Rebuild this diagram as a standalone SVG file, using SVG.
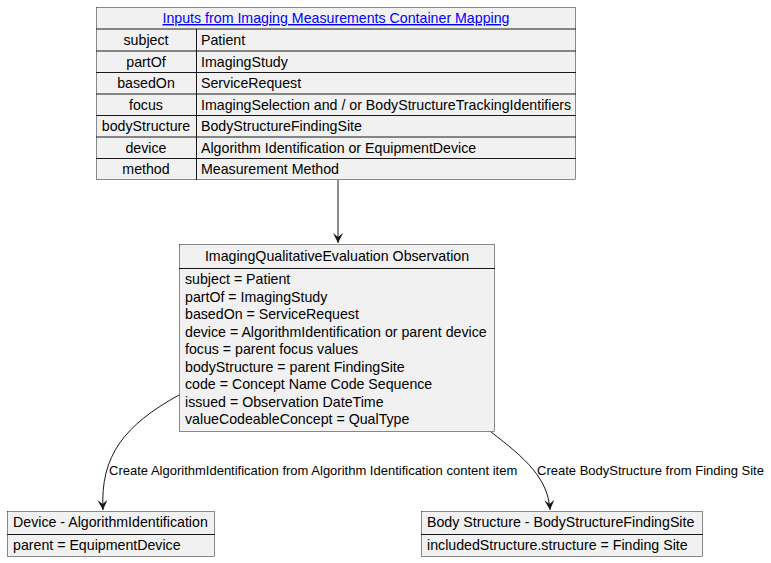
<svg xmlns="http://www.w3.org/2000/svg" width="771" height="563" viewBox="0 0 771 563">
<defs>
<style>
.box{fill:#F1F1F1;stroke:#181818;stroke-width:0.5}
.ln{stroke:#181818;stroke-width:1}
.t14{font-family:"Liberation Sans",Arial,sans-serif;font-size:14.2px;fill:#000}
.t13{font-family:"Liberation Sans",Arial,sans-serif;font-size:14.2px;fill:#000}
.lbl{font-family:"Liberation Sans",Arial,sans-serif;font-size:13px;fill:#000}
.edge{fill:none;stroke:#181818;stroke-width:1}
</style>
<marker id="arr" markerWidth="12" markerHeight="12" refX="10" refY="5" orient="auto" markerUnits="userSpaceOnUse">
<path d="M0,0 L10,5 L0,10 L4,5 Z" fill="#181818"/>
</marker>
</defs>
<rect width="771" height="563" fill="#FFFFFF"/>
<g id="inputs">
<rect class="box" x="96.5" y="7.5" width="479" height="172"/>
<line class="ln" x1="96" y1="29" x2="576" y2="29"/>
<line class="ln" x1="96" y1="51" x2="576" y2="51"/>
<line class="ln" x1="96" y1="72.5" x2="576" y2="72.5"/>
<line class="ln" x1="96" y1="94" x2="576" y2="94"/>
<line class="ln" x1="96" y1="115.5" x2="576" y2="115.5"/>
<line class="ln" x1="96" y1="137" x2="576" y2="137"/>
<line class="ln" x1="96" y1="158.5" x2="576" y2="158.5"/>
<line class="ln" x1="196.5" y1="29" x2="196.5" y2="180"/>
<text class="t14" x="336" y="23" text-anchor="middle" style="fill:#0000FF" text-decoration="underline">Inputs from Imaging Measurements Container Mapping</text>
<text class="t14" x="146" y="45" text-anchor="middle">subject</text>
<text class="t14" x="201" y="45">Patient</text>
<text class="t14" x="146" y="67" text-anchor="middle">partOf</text>
<text class="t14" x="201" y="67">ImagingStudy</text>
<text class="t14" x="146" y="88" text-anchor="middle">basedOn</text>
<text class="t14" x="201" y="88">ServiceRequest</text>
<text class="t14" x="146" y="110" text-anchor="middle">focus</text>
<text class="t14" x="201" y="110">ImagingSelection and / or BodyStructureTrackingIdentifiers</text>
<text class="t14" x="146" y="131" text-anchor="middle">bodyStructure</text>
<text class="t14" x="201" y="131">BodyStructureFindingSite</text>
<text class="t14" x="146" y="153" text-anchor="middle">device</text>
<text class="t14" x="201" y="153">Algorithm Identification or EquipmentDevice</text>
<text class="t14" x="146" y="174" text-anchor="middle">method</text>
<text class="t14" x="201" y="174">Measurement Method</text>
</g>
<g id="observation">
<rect class="box" x="179.5" y="244.5" width="315" height="187"/>
<line class="ln" x1="179" y1="268.5" x2="495" y2="268.5"/>
<text class="t13" x="337" y="261" text-anchor="middle">ImagingQualitativeEvaluation Observation</text>
<text class="t13" x="185" y="284">subject = Patient</text>
<text class="t13" x="185" y="302">partOf = ImagingStudy</text>
<text class="t13" x="185" y="319">basedOn = ServiceRequest</text>
<text class="t13" x="185" y="337">device = AlgorithmIdentification or parent device</text>
<text class="t13" x="185" y="354">focus = parent focus values</text>
<text class="t13" x="185" y="372">bodyStructure = parent FindingSite</text>
<text class="t13" x="185" y="389">code = Concept Name Code Sequence</text>
<text class="t13" x="185" y="407">issued = Observation DateTime</text>
<text class="t13" x="185" y="424">valueCodeableConcept = QualType</text>
</g>
<g id="device">
<rect class="box" x="7.5" y="511.5" width="207" height="45"/>
<line class="ln" x1="7" y1="534.5" x2="215" y2="534.5"/>
<text class="t13" x="13" y="527">Device - AlgorithmIdentification</text>
<text class="t13" x="13" y="550">parent = EquipmentDevice</text>
</g>
<g id="bodystructure">
<rect class="box" x="421.5" y="511.5" width="281" height="45"/>
<line class="ln" x1="421" y1="534.5" x2="703" y2="534.5"/>
<text class="t13" x="427" y="527">Body Structure - BodyStructureFindingSite</text>
<text class="t13" x="427" y="550">includedStructure.structure = Finding Site</text>
</g>
<g id="connectors">
<path class="edge" d="M338,180 L338,243" marker-end="url(#arr)"/>
<path class="edge" d="M179,395 C125,425 100,455 103,510" marker-end="url(#arr)"/>
<path class="edge" d="M491,432 C525,458 548,478 550,510" marker-end="url(#arr)"/>
<text class="lbl" x="109" y="475">Create AlgorithmIdentification from Algorithm Identification content item</text>
<text class="lbl" x="537" y="475">Create BodyStructure from Finding Site</text>
</g>
</svg>
